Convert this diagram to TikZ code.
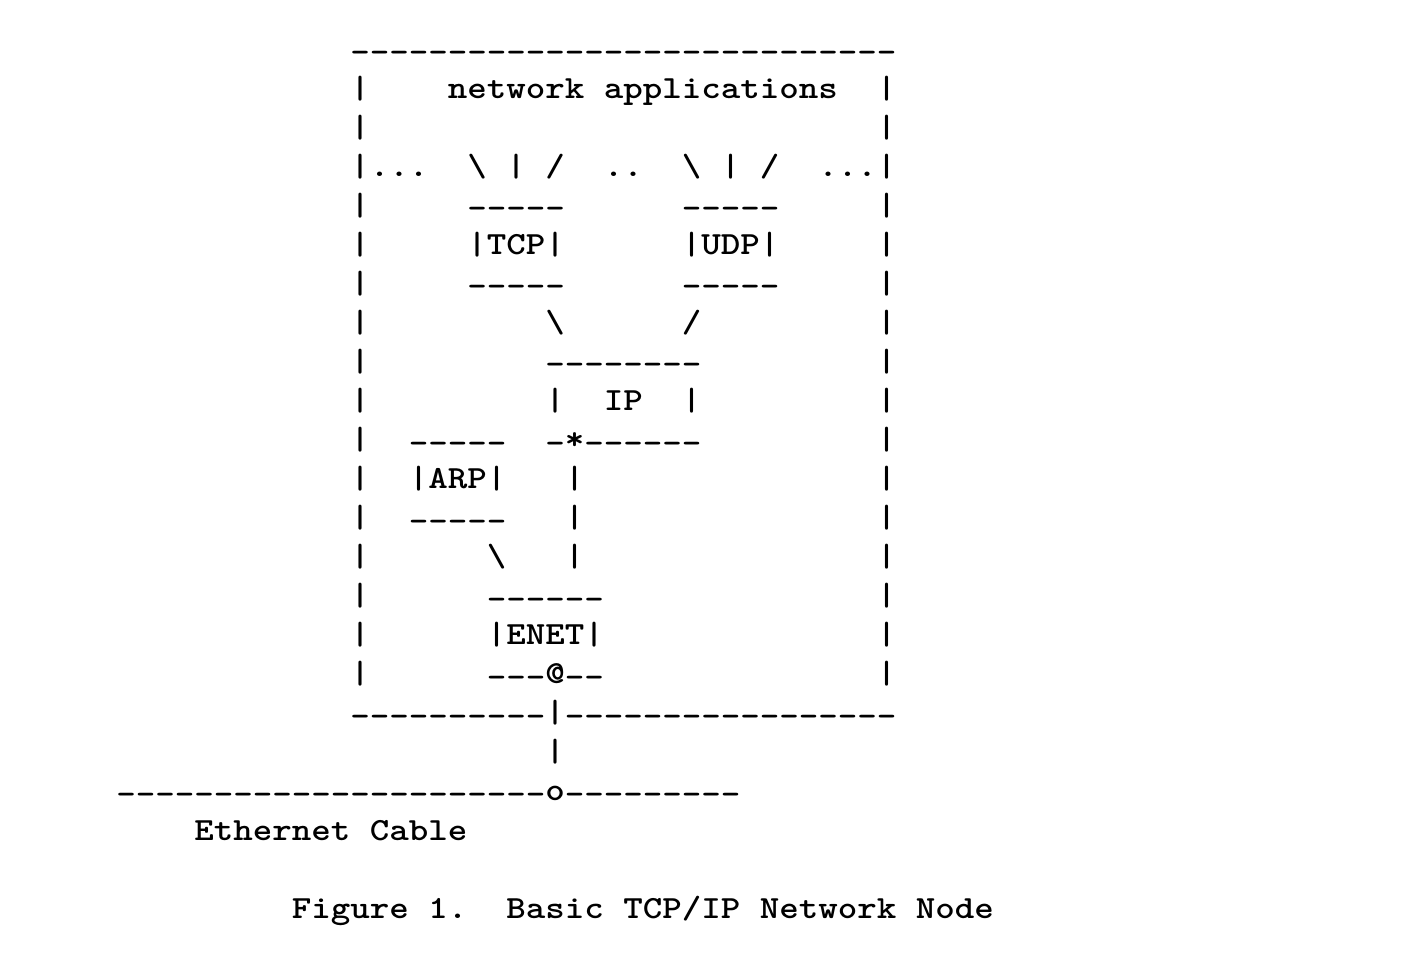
\documentclass[tikz,border=0pt]{standalone}
\usepackage{fontspec}
\newfontfamily\asciifont{lmmonolt10-bold.otf}[Ligatures=TeXOff,FakeStretch=1.15]
\newcommand\bs{\textbackslash}
\newcommand\hy{\raisebox{-3.5pt}{-}}
\ExplSyntaxOn
\cs_new:Npn \dashrun #1 {\prg_replicate:nn {#1} {\hy}}
\cs_new:Npn \sprun #1 {\prg_replicate:nn {#1} {~}}
\ExplSyntaxOff
\newcommand\asciiline[4]{\node[txt] (#1) at ({116.25+19.5*#2},{-(59+39.05*#3)}) {#4};}
\begin{document}
\begin{tikzpicture}[x=1pt,y=1pt,
  txt/.style={anchor=base west,inner sep=0pt,outer sep=0pt,
    font=\asciifont\fontsize{32.3}{39}\selectfont\frenchspacing}]
\fill[white] (0,0) rectangle (1420,-956);
\useasboundingbox (0,0) rectangle (1420,-956);
\asciiline{r0}{12}{0}{\dashrun{28}}
\asciiline{r1}{12}{1}{|\sprun{4}network~applications\sprun{2}|}
\asciiline{r2}{12}{2}{|\sprun{26}|}
\asciiline{r3}{12}{3}{|...~~\bs~|~/~~..~~\bs~|~/~~...|}
\asciiline{r4}{12}{4}{|\sprun{5}\dashrun{5}\sprun{6}\dashrun{5}\sprun{5}|}
\asciiline{r5}{12}{5}{|\sprun{5}|TCP|\sprun{6}|UDP|\sprun{5}|}
\asciiline{r6}{12}{6}{|\sprun{5}\dashrun{5}\sprun{6}\dashrun{5}\sprun{5}|}
\asciiline{r7}{12}{7}{|\sprun{9}\bs\sprun{6}/\sprun{9}|}
\asciiline{r8}{12}{8}{|\sprun{9}\dashrun{8}\sprun{9}|}
\asciiline{r9}{12}{9}{|\sprun{9}|~~IP~~|\sprun{9}|}
\asciiline{r10}{12}{10}{|\sprun{2}\dashrun{5}\sprun{2}\hy*\dashrun{6}\sprun{9}|}
\asciiline{r11}{12}{11}{|\sprun{2}|ARP|\sprun{3}|\sprun{15}|}
\asciiline{r12}{12}{12}{|\sprun{2}\dashrun{5}\sprun{3}|\sprun{15}|}
\asciiline{r13}{12}{13}{|\sprun{6}\bs\sprun{3}|\sprun{15}|}
\asciiline{r14}{12}{14}{|\sprun{6}\dashrun{6}\sprun{14}|}
\asciiline{r15}{12}{15}{|\sprun{6}|ENET|\sprun{14}|}
\asciiline{r16}{12}{16}{|\sprun{6}\dashrun{3}@\dashrun{2}\sprun{14}|}
\asciiline{r17}{12}{17}{\dashrun{10}|\dashrun{17}}
\asciiline{r18}{22}{18}{|}
\asciiline{r19}{0}{19}{\dashrun{22}o\dashrun{9}}
\asciiline{r20}{4}{20}{Ethernet~Cable}
\asciiline{r22}{9}{22}{Figure~1.~~Basic~TCP/IP~Network~Node}
\end{tikzpicture}
\end{document}
